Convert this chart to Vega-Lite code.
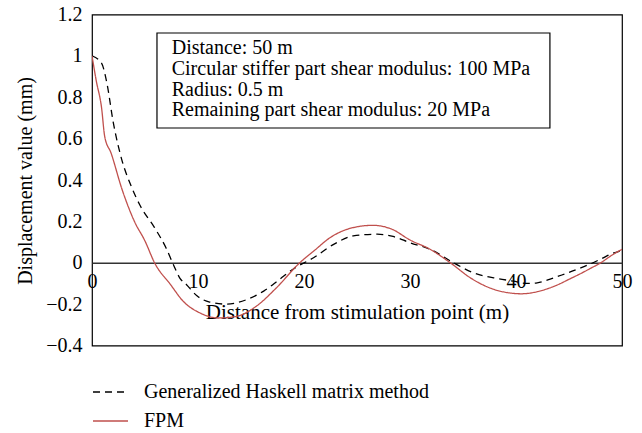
{
  "$schema": "https://vega.github.io/schema/vega-lite/v6.json",
  "autosize": {"type": "none"},
  "padding": {"left": 92, "top": 14.5, "right": 20, "bottom": 87.5},
  "width": 530,
  "height": 331,
  "config": {
    "view": {"stroke": "#000000", "strokeWidth": 1.2},
    "font": "Liberation Serif",
    "axis": {"labelFont": "Liberation Serif", "titleFont": "Liberation Serif", "labelColor": "#000", "titleColor": "#000", "grid": false, "ticks": false, "tickSize": 0, "titleFontWeight": "normal"}
  },
  "datasets": {
    "curves": [
      {"x": 0, "y": 1.0, "series": "Generalized Haskell matrix method"},
      {"x": 0.9, "y": 0.965, "series": "Generalized Haskell matrix method"},
      {"x": 1.4, "y": 0.87, "series": "Generalized Haskell matrix method"},
      {"x": 2, "y": 0.68, "series": "Generalized Haskell matrix method"},
      {"x": 2.8, "y": 0.5, "series": "Generalized Haskell matrix method"},
      {"x": 3.7, "y": 0.37, "series": "Generalized Haskell matrix method"},
      {"x": 4.5, "y": 0.28, "series": "Generalized Haskell matrix method"},
      {"x": 5.9, "y": 0.17, "series": "Generalized Haskell matrix method"},
      {"x": 7, "y": 0.07, "series": "Generalized Haskell matrix method"},
      {"x": 7.6, "y": 0.0, "series": "Generalized Haskell matrix method"},
      {"x": 8.3, "y": -0.075, "series": "Generalized Haskell matrix method"},
      {"x": 8.9, "y": -0.105, "series": "Generalized Haskell matrix method"},
      {"x": 9.9, "y": -0.16, "series": "Generalized Haskell matrix method"},
      {"x": 11.1, "y": -0.19, "series": "Generalized Haskell matrix method"},
      {"x": 12.7, "y": -0.2, "series": "Generalized Haskell matrix method"},
      {"x": 14.6, "y": -0.178, "series": "Generalized Haskell matrix method"},
      {"x": 16.2, "y": -0.137, "series": "Generalized Haskell matrix method"},
      {"x": 17.7, "y": -0.08, "series": "Generalized Haskell matrix method"},
      {"x": 19, "y": -0.03, "series": "Generalized Haskell matrix method"},
      {"x": 20.9, "y": 0.024, "series": "Generalized Haskell matrix method"},
      {"x": 22.8, "y": 0.089, "series": "Generalized Haskell matrix method"},
      {"x": 24.65, "y": 0.13, "series": "Generalized Haskell matrix method"},
      {"x": 26.9, "y": 0.138, "series": "Generalized Haskell matrix method"},
      {"x": 28.4, "y": 0.127, "series": "Generalized Haskell matrix method"},
      {"x": 30, "y": 0.097, "series": "Generalized Haskell matrix method"},
      {"x": 31.9, "y": 0.065, "series": "Generalized Haskell matrix method"},
      {"x": 34.1, "y": 0.0, "series": "Generalized Haskell matrix method"},
      {"x": 36, "y": -0.049, "series": "Generalized Haskell matrix method"},
      {"x": 37.9, "y": -0.073, "series": "Generalized Haskell matrix method"},
      {"x": 39.75, "y": -0.089, "series": "Generalized Haskell matrix method"},
      {"x": 41, "y": -0.1, "series": "Generalized Haskell matrix method"},
      {"x": 42, "y": -0.097, "series": "Generalized Haskell matrix method"},
      {"x": 43, "y": -0.083, "series": "Generalized Haskell matrix method"},
      {"x": 44, "y": -0.065, "series": "Generalized Haskell matrix method"},
      {"x": 45, "y": -0.047, "series": "Generalized Haskell matrix method"},
      {"x": 46, "y": -0.027, "series": "Generalized Haskell matrix method"},
      {"x": 47, "y": -0.006, "series": "Generalized Haskell matrix method"},
      {"x": 48, "y": 0.018, "series": "Generalized Haskell matrix method"},
      {"x": 49, "y": 0.043, "series": "Generalized Haskell matrix method"},
      {"x": 50, "y": 0.06, "series": "Generalized Haskell matrix method"},
      {"x": 0, "y": 1.0, "series": "FPM"},
      {"x": 0.4, "y": 0.88, "series": "FPM"},
      {"x": 0.9, "y": 0.75, "series": "FPM"},
      {"x": 1.2, "y": 0.61, "series": "FPM"},
      {"x": 1.8, "y": 0.53, "series": "FPM"},
      {"x": 2.8, "y": 0.36, "series": "FPM"},
      {"x": 4, "y": 0.2, "series": "FPM"},
      {"x": 5, "y": 0.105, "series": "FPM"},
      {"x": 5.9, "y": 0.0, "series": "FPM"},
      {"x": 7.4, "y": -0.105, "series": "FPM"},
      {"x": 8.6, "y": -0.186, "series": "FPM"},
      {"x": 10.2, "y": -0.243, "series": "FPM"},
      {"x": 11.9, "y": -0.267, "series": "FPM"},
      {"x": 13.65, "y": -0.259, "series": "FPM"},
      {"x": 15.5, "y": -0.21, "series": "FPM"},
      {"x": 17.4, "y": -0.121, "series": "FPM"},
      {"x": 19.6, "y": 0.0, "series": "FPM"},
      {"x": 21, "y": 0.06, "series": "FPM"},
      {"x": 22.45, "y": 0.121, "series": "FPM"},
      {"x": 24.65, "y": 0.17, "series": "FPM"},
      {"x": 26.5, "y": 0.181, "series": "FPM"},
      {"x": 28.3, "y": 0.162, "series": "FPM"},
      {"x": 30, "y": 0.11, "series": "FPM"},
      {"x": 31.9, "y": 0.065, "series": "FPM"},
      {"x": 33.8, "y": 0.0, "series": "FPM"},
      {"x": 35.7, "y": -0.073, "series": "FPM"},
      {"x": 37.5, "y": -0.121, "series": "FPM"},
      {"x": 39.4, "y": -0.146, "series": "FPM"},
      {"x": 40.5, "y": -0.15, "series": "FPM"},
      {"x": 42, "y": -0.14, "series": "FPM"},
      {"x": 43, "y": -0.125, "series": "FPM"},
      {"x": 44, "y": -0.105, "series": "FPM"},
      {"x": 45, "y": -0.08, "series": "FPM"},
      {"x": 46, "y": -0.055, "series": "FPM"},
      {"x": 47, "y": -0.028, "series": "FPM"},
      {"x": 48, "y": 0.0, "series": "FPM"},
      {"x": 49, "y": 0.035, "series": "FPM"},
      {"x": 50, "y": 0.065, "series": "FPM"}
    ]
  },
  "layer": [
    {
      "data": {"name": "curves"},
      "mark": {"type": "line", "interpolate": "monotone", "strokeWidth": 1.3, "clip": true},
      "encoding": {
        "x": {
          "field": "x", "type": "quantitative",
          "scale": {"domain": [0, 50], "nice": false, "zero": false},
          "axis": {
            "values": [0, 10, 20, 30, 40, 50], "format": "d",
            "offset": -82.75, "domainColor": "#333333", "domainWidth": 1.3,
            "labelFontSize": 20, "labelPadding": 9, "labelFlush": false, "labelOverlap": false,
            "title": "Distance from stimulation point (m)", "titleFontSize": 21,
            "titleY": 50, "titleBaseline": "middle", "titleAnchor": "middle"
          }
        },
        "y": {
          "field": "y", "type": "quantitative",
          "scale": {"domain": [-0.4, 1.2], "nice": false, "zero": false},
          "axis": {
            "values": [-0.4, -0.2, 0, 0.2, 0.4, 0.6, 0.8, 1, 1.2], "format": "~g",
            "domain": false, "labelFontSize": 20, "labelPadding": 10, "labelFlush": false, "labelOverlap": false,
            "title": "Displacement value (mm)", "titleFontSize": 20,
            "titleX": -67, "titleY": 166, "titleAngle": -90, "titleAlign": "center", "titleBaseline": "middle"
          }
        },
        "color": {
          "field": "series", "type": "nominal",
          "scale": {"domain": ["Generalized Haskell matrix method", "FPM"], "range": ["#000000", "#c0504d"]},
          "legend": {
            "orient": "none", "legendX": 0, "legendY": 359, "title": null, "direction": "vertical",
            "symbolType": "stroke", "symbolSize": 1225, "symbolStrokeWidth": 1.3,
            "labelFont": "Liberation Serif", "labelFontSize": 20, "labelColor": "#000", "labelLimit": 600,
            "labelOffset": 15, "rowPadding": -13, "padding": 0
          }
        },
        "strokeDash": {
          "field": "series", "type": "nominal",
          "scale": {"domain": ["Generalized Haskell matrix method", "FPM"], "range": [[7, 5], [1, 0]]},
          "legend": {
            "orient": "none", "legendX": 0, "legendY": 359, "title": null, "direction": "vertical",
            "symbolType": "stroke", "symbolSize": 1225, "symbolStrokeWidth": 1.3,
            "labelFont": "Liberation Serif", "labelFontSize": 20, "labelColor": "#000", "labelLimit": 600,
            "labelOffset": 15, "rowPadding": -13, "padding": 0
          }
        }
      }
    },
    {
      "data": {"values": [{}]},
      "mark": {"type": "rect", "fill": null, "stroke": "#000000", "strokeWidth": 1.2},
      "encoding": {
        "x": {"datum": 6.13, "type": "quantitative"},
        "x2": {"datum": 43.2},
        "y": {"datum": 1.1106, "type": "quantitative"},
        "y2": {"datum": 0.6514}
      }
    },
    {
      "data": {"values": [{}]},
      "mark": {
        "type": "text", "align": "left", "baseline": "middle", "font": "Liberation Serif", "fontSize": 20,
        "lineHeight": 20.7, "color": "#000000",
        "text": ["Distance: 50 m", "Circular stiffer part shear modulus: 100 MPa", "Radius: 0.5 m", "Remaining part shear modulus: 20 MPa"]
      },
      "encoding": {
        "x": {"datum": 7.52, "type": "quantitative"},
        "y": {"datum": 1.0373, "type": "quantitative"}
      }
    }
  ]
}
